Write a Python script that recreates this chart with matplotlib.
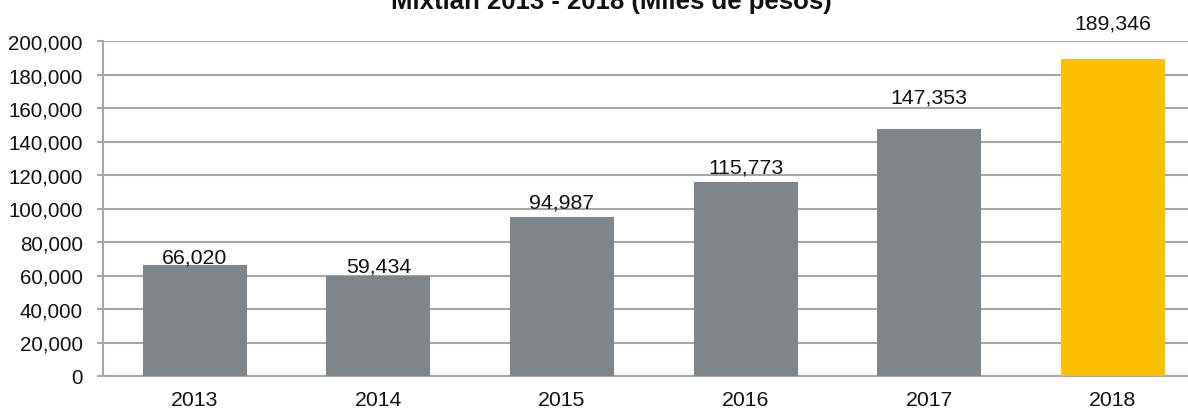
import matplotlib
matplotlib.use("Agg")
import matplotlib.pyplot as plt
from matplotlib.ticker import FuncFormatter

plt.rcParams['font.family'] = ['Liberation Sans', 'DejaVu Sans']

years = ['2013', '2014', '2015', '2016', '2017', '2018']
values = [66020, 59434, 94987, 115773, 147353, 189346]
bar_colors = ['#80858A', '#80858A', '#80858A', '#80858A', '#80858A', '#FFC000']
# label lift above each bar, in points (Excel put them unevenly)
label_lift = [2, 3.5, 7, 7, 19, 21.5]

fig = plt.figure(figsize=(11.88, 4.10), dpi=100)
ax = fig.add_axes([103 / 1188, 33 / 410, 1101.6 / 1188, 335 / 410])

x = range(len(years))
ax.bar(x, values, width=0.567, color=bar_colors, zorder=3)

for xi, v, lift in zip(x, values, label_lift):
    ax.annotate(f'{v:,}', (xi, v), xytext=(0, lift), textcoords='offset points',
                ha='center', va='baseline', fontsize=15.3, color='#111111',
                annotation_clip=False)

ax.set_xlim(-0.5, len(years) - 0.5)
ax.set_ylim(0, 200000)
ax.set_yticks(range(0, 200001, 20000))
ax.yaxis.set_major_formatter(FuncFormatter(lambda v, p: f'{int(v):,}'))
ax.set_xticks(list(x))
ax.set_xticklabels(years)

ax.grid(axis='y', color='#A6A6A6', linewidth=1.5, zorder=0)
for side in ['top', 'right']:
    ax.spines[side].set_visible(False)
for side in ['left', 'bottom']:
    ax.spines[side].set_color('#A6A6A6')
    ax.spines[side].set_linewidth(1.5)

ax.tick_params(axis='y', length=4.5, width=1.5, color='#A6A6A6', pad=10,
               labelsize=14.8, labelcolor='#111111')
ax.tick_params(axis='x', length=0, pad=10, labelsize=15.3, labelcolor='#111111')

fig.text(611 / 1188, (410 - 9) / 410, 'Mixtlán 2013 - 2018 (Miles de pesos)',
         ha='center', va='baseline', fontsize=18.5, fontweight='bold', color='#111111')

fig.savefig('out.png', dpi=100)
